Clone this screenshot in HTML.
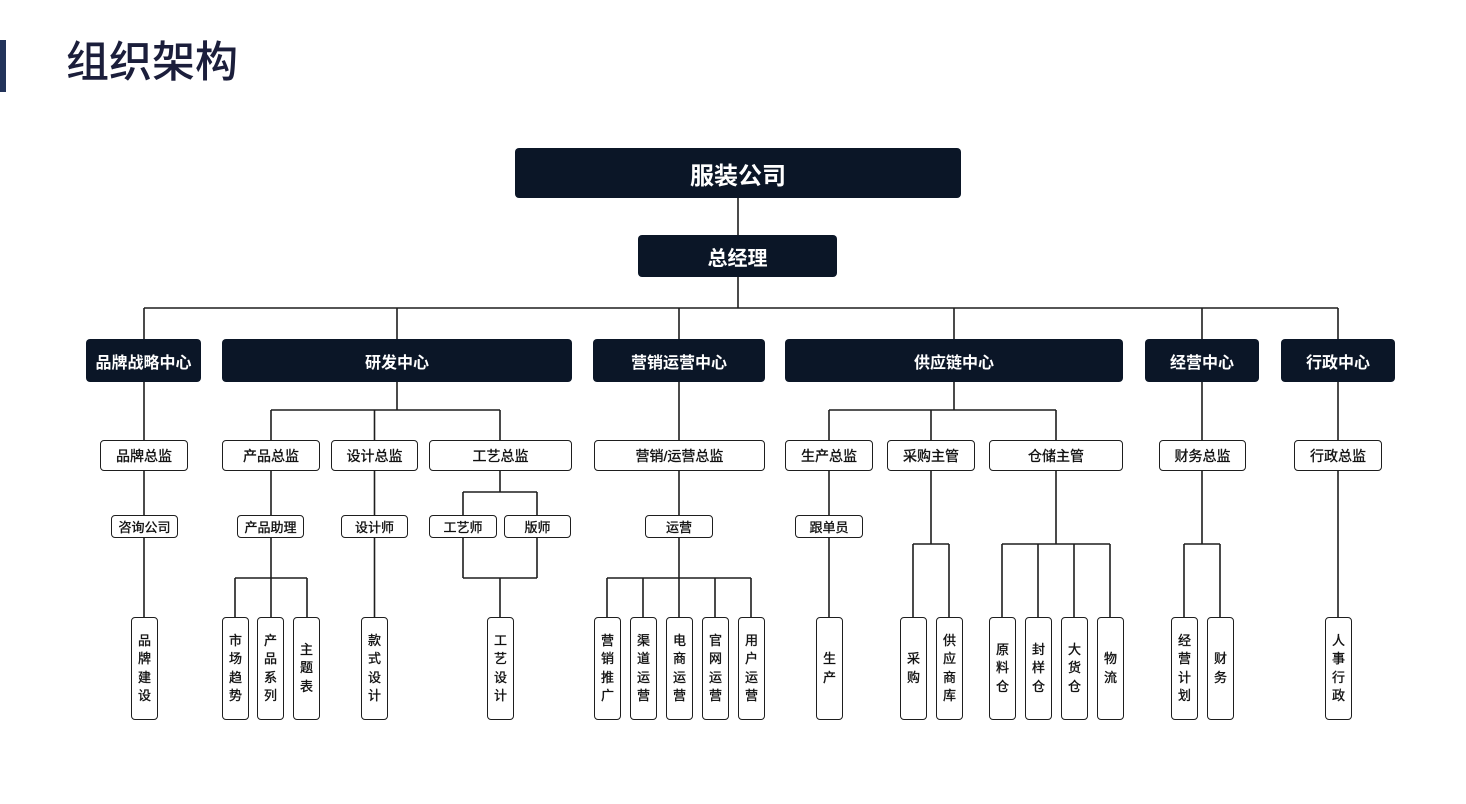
<!DOCTYPE html>
<html><head><meta charset="utf-8">
<style>
*{margin:0;padding:0;box-sizing:border-box}
body{width:1466px;height:804px;background:#fff;position:relative;overflow:hidden;font-family:"Liberation Sans","Noto Sans CJK SC",sans-serif}
.bar{position:absolute;left:0;top:40px;width:6px;height:52px;background:#22335a}
.title{position:absolute;left:66px;top:36px;font-size:43px;line-height:54px;color:#1b1e3b;font-weight:500;letter-spacing:0px}
svg{position:absolute;left:0;top:0}
.d{position:absolute;background:#0b1627;color:#fff;border-radius:4px;display:flex;align-items:center;justify-content:center;font-weight:700}
.w{position:absolute;background:#fff;border:1.6px solid #1e1e1e;border-radius:4px;display:flex;align-items:center;justify-content:center;color:#111;font-weight:400;-webkit-text-stroke:0.35px #111}
.l2{top:440px;height:31px;font-size:14px}
.l3{top:515px;height:23px;font-size:13px}
.l4{top:617px;height:103px;width:27px;font-size:13px;line-height:18.5px;text-align:center}
.l1{top:339px;height:43px;font-size:16px}
</style></head><body>
<div class="bar"></div>
<div class="title">组织架构</div>
<svg width="1466" height="804" viewBox="0 0 1466 804">
<g stroke="#1e1e1e" stroke-width="1.6" fill="none">
<path d="M738 198V235M738 277V308M144 308H1338"/>
<path d="M144 308V339M397 308V339M679 308V339M954 308V339M1202 308V339M1338 308V339"/>
<path d="M144 382V617"/>
<path d="M397 382V410M271 410H500M271 410V617M374.5 410V617M500 410V492"/>
<path d="M235 578H307M235 578V617M307 578V617"/>
<path d="M463 492H537M463 492V578M537 492V578M463 578H537M500 578V617"/>
<path d="M679 382V617M607 578H751M607 578V617M643 578V617M715 578V617M751 578V617"/>
<path d="M954 382V410M829 410H1056M829 410V617M931 410V544M1056 410V544"/>
<path d="M913 544H949M913 544V617M949 544V617"/>
<path d="M1002 544H1110M1002 544V617M1038 544V617M1074 544V617M1110 544V617"/>
<path d="M1202 382V544M1184 544H1220M1184 544V617M1220 544V617"/>
<path d="M1338 382V617"/>
</g>
</svg>

<div class="d" style="left:515px;top:148px;width:446px;height:50px;font-size:24px">服装公司</div>
<div class="d" style="left:638px;top:235px;width:199px;height:42px;font-size:20px">总经理</div>

<div class="d l1" style="left:86px;width:115px">品牌战略中心</div>
<div class="d l1" style="left:222px;width:350px">研发中心</div>
<div class="d l1" style="left:593px;width:172px">营销运营中心</div>
<div class="d l1" style="left:785px;width:338px">供应链中心</div>
<div class="d l1" style="left:1145px;width:114px">经营中心</div>
<div class="d l1" style="left:1281px;width:114px">行政中心</div>

<div class="w l2" style="left:100px;width:88px">品牌总监</div>
<div class="w l2" style="left:222px;width:98px">产品总监</div>
<div class="w l2" style="left:331px;width:87px">设计总监</div>
<div class="w l2" style="left:429px;width:143px">工艺总监</div>
<div class="w l2" style="left:594px;width:171px">营销/运营总监</div>
<div class="w l2" style="left:785px;width:88px">生产总监</div>
<div class="w l2" style="left:887px;width:88px">采购主管</div>
<div class="w l2" style="left:989px;width:134px">仓储主管</div>
<div class="w l2" style="left:1159px;width:87px">财务总监</div>
<div class="w l2" style="left:1294px;width:88px">行政总监</div>

<div class="w l3" style="left:111px;width:67px">咨询公司</div>
<div class="w l3" style="left:237px;width:67px">产品助理</div>
<div class="w l3" style="left:341px;width:67px">设计师</div>
<div class="w l3" style="left:429px;width:68px">工艺师</div>
<div class="w l3" style="left:504px;width:67px">版师</div>
<div class="w l3" style="left:645px;width:68px">运营</div>
<div class="w l3" style="left:795px;width:68px">跟单员</div>

<div class="w l4" style="left:131px">品<br>牌<br>建<br>设</div>
<div class="w l4" style="left:222px">市<br>场<br>趋<br>势</div>
<div class="w l4" style="left:257px">产<br>品<br>系<br>列</div>
<div class="w l4" style="left:293px">主<br>题<br>表</div>
<div class="w l4" style="left:361px">款<br>式<br>设<br>计</div>
<div class="w l4" style="left:487px">工<br>艺<br>设<br>计</div>
<div class="w l4" style="left:594px">营<br>销<br>推<br>广</div>
<div class="w l4" style="left:630px">渠<br>道<br>运<br>营</div>
<div class="w l4" style="left:666px">电<br>商<br>运<br>营</div>
<div class="w l4" style="left:702px">官<br>网<br>运<br>营</div>
<div class="w l4" style="left:738px">用<br>户<br>运<br>营</div>
<div class="w l4" style="left:816px">生<br>产</div>
<div class="w l4" style="left:900px">采<br>购</div>
<div class="w l4" style="left:936px">供<br>应<br>商<br>库</div>
<div class="w l4" style="left:989px">原<br>料<br>仓</div>
<div class="w l4" style="left:1025px">封<br>样<br>仓</div>
<div class="w l4" style="left:1061px">大<br>货<br>仓</div>
<div class="w l4" style="left:1097px">物<br>流</div>
<div class="w l4" style="left:1171px">经<br>营<br>计<br>划</div>
<div class="w l4" style="left:1207px">财<br>务</div>
<div class="w l4" style="left:1325px">人<br>事<br>行<br>政</div>
</body></html>
